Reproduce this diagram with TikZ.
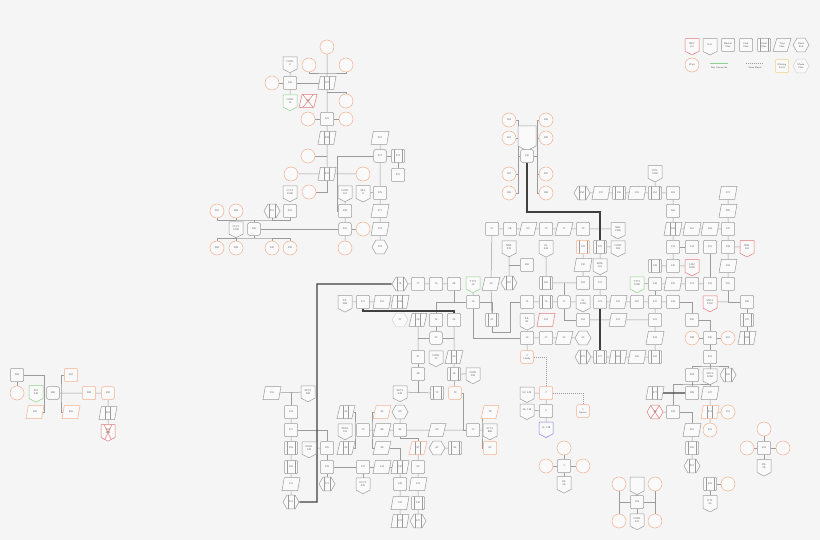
\documentclass[tikz,border=0pt]{standalone}
\usetikzlibrary{shapes.geometric,shapes.symbols,calc}
\pgfdeclarelayer{bg}
\pgfsetlayers{bg,main}
\definecolor{bgc}{RGB}{245,245,245}
\definecolor{lnc}{RGB}{155,155,155}
\definecolor{txc}{RGB}{95,95,95}
\definecolor{orc}{RGB}{244,176,142}
\definecolor{rdc}{RGB}{228,120,120}
\definecolor{grc}{RGB}{140,210,140}
\definecolor{blc}{RGB}{125,125,230}
\definecolor{ylc}{RGB}{240,210,130}
\tikzset{
  nbox/.style={draw=lnc, fill=white!55!bgc, line width=0.5pt, inner sep=0pt, text=txc,
    font=\sffamily\fontsize{2.6}{3}\selectfont, align=center},
  sq/.style={nbox, rectangle, rounded corners=0.8pt, minimum width=13pt, minimum height=13pt},
  rsq/.style={sq, rounded corners=2.5pt},
  par/.style={nbox, trapezium, trapezium left angle=68, trapezium right angle=112,
    trapezium stretches=true, minimum width=18pt, minimum height=13pt},
  hexa/.style={nbox, regular polygon, regular polygon sides=6, minimum size=16pt},
  tag/.style={nbox, signal, signal to=south, signal pointer angle=125, minimum width=14pt, minimum height=14pt},
  circ/.style={nbox, draw=orc, circle, minimum size=14pt},
  innerl/.style={path picture={
    \draw[lnc, line width=0.5pt] ([xshift=-#1]path picture bounding box.center) ++(0,-10) -- ++(0,20);
    \draw[lnc, line width=0.5pt] ([xshift=#1]path picture bounding box.center) ++(0,-10) -- ++(0,20);}},
  dbl/.style={sq, innerl=4.2pt},
  dpar/.style={par, innerl=2.5pt},
  dhex/.style={hexa, innerl=3pt},
  xcross/.style={path picture={
    \draw[rdc, line width=0.5pt] ([shift={(2,2)}]path picture bounding box.south west) -- ([shift={(-2,-2)}]path picture bounding box.north east)
      ([shift={(2,-2)}]path picture bounding box.north west) -- ([shift={(-2,2)}]path picture bounding box.south east);}},
  ora/.style={draw=orc},
  rline/.style={draw=rdc},
  gline/.style={draw=grc},
  bline/.style={draw=blc},
  yline/.style={draw=ylc},
  lhex/.style={draw=lnc!45},
  lbl/.style={text=txc, font=\sffamily\fontsize{2.4}{3}\selectfont, inner sep=0pt},
  lk/.style={draw=lnc, line width=0.5pt},
  thk/.style={draw=black!75, line width=1.3pt},
  dotl/.style={dash pattern=on 1pt off 1pt}
}

\begin{document}
\begin{tikzpicture}[x=1pt, y=-1pt, line width=0.5pt]
%%%%% START %%%%%
\begin{pgfonlayer}{bg}
\fill[bgc] (0,0) rectangle (820,540);
\end{pgfonlayer}

\node[sq] (n389) at (17,375) {389};
\node[circ] (c389) at (17,393) {};
\node[tag,gline] (t261) at (36,392) {261\\538};
\node[rsq] (n386) at (53,393) {386};
\node[par,ora] (n400) at (35,412) {400};
\node[sq,ora] (n402) at (71,375) {402};
\node[par,ora] (n405) at (71,412) {405};
\node[sq,ora] (n388) at (89,393) {388};
\node[rsq,ora] (n390) at (108,393) {390};
\node[dpar] (n391) at (108,413) {391};
\node[tag,rline,xcross] (t392) at (108,431) {392\\628};
\coordinate (k1) at (44,412);
\coordinate (k2) at (61,393);

\node[circ] (c1) at (327,47) {};
\node[circ] (c2) at (309,65) {};
\node[circ] (c3) at (346,65) {};
\node[tag] (t8) at (290,63) {CORL\\8};
\node[sq] (n126) at (290,83) {126};
\node[circ] (c4) at (272,83) {};
\node[dpar] (n127) at (327,83) {127};
\node[tag,gline] (t14) at (290,101) {CORL\\14};
\node[par,rline,xcross] (n30a) at (308,101) {30};
\node[circ] (c5) at (346,101) {};
\node[sq] (n128) at (327,119) {219};
\node[circ] (c6) at (308,119) {};
\node[circ] (c7) at (346,119) {};
\node[dpar] (n129) at (327,138) {228};
\node[circ] (c8) at (308,156) {};
\node[dpar] (n170a) at (327,174) {270};
\node[circ] (c9) at (291,174) {};
\node[circ] (c10) at (363,174) {};
\node[circ] (c11) at (309,192) {};
\node[tag] (t1508) at (290,192) {CCCL\\1508};
\coordinate (b1) at (327,73);
\coordinate (b2) at (327,92);
\coordinate (b3) at (327,156);

\node[tag] (t112) at (345,192) {CORL\\112};
\node[tag] (t8b) at (363,192) {SEL\\8};
\node[sq] (n408) at (345,211) {408};
\node[rsq] (n301) at (345,229) {301};
\node[circ] (c12) at (363,229) {};
\node[circ] (c13) at (345,248) {};
\node[rsq] (n285) at (254,229) {285};
\node[tag] (t5208) at (236,228) {CCCL\\5208};
\node[circ] (c287) at (217,211) {287};
\node[circ] (c289) at (236,211) {289};
\node[dhex] (n251) at (272,211) {251};
\node[sq] (n252) at (290,211) {252};
\node[circ] (c286) at (217,248) {286};
\node[circ] (c288) at (236,248) {288};
\node[circ] (c290) at (272,248) {290};
\node[circ] (c292) at (290,248) {292};
\coordinate (b4) at (337,211);
\coordinate (b5) at (254,220);
\coordinate (b6) at (254,238);

\node[par] (n274) at (380,138) {274};
\node[rsq] (n272) at (380,156) {272};
\node[dbl] (n273) at (398,156) {273};
\node[sq] (n275) at (398,175) {275};
\node[sq] (n276) at (380,193) {276};
\node[par] (n277b) at (380,211) {277};
\node[par] (n278) at (380,229) {278};
\node[hexa] (n279) at (380,247) {279};

\node[dhex] (n78) at (400,284) {78};
\node[sq] (n77) at (418,284) {77};
\node[sq] (n76) at (436,284) {76};
\node[sq] (n68) at (454,284) {68};
\node[tag,gline] (t16) at (473,283) {TTTL\\16};
\node[par] (n20) at (491,284) {20};
\node[sq] (n16) at (473,302) {16};
\node[tag] (t388) at (345,302) {27L\\388};
\node[sq] (n111) at (363,302) {111};
\node[par] (n112) at (382,302) {112};
\node[dpar] (n118) at (400,302) {118};
\node[hexa,lhex] (n27) at (400,320) {27};
\node[dpar] (n26) at (418,320) {26};
\node[sq] (n19) at (436,320) {19};
\node[sq] (n24) at (454,320) {24};
\node[rsq] (n22) at (436,338) {22};
\node[sq] (n21) at (418,357) {21};
\node[tag] (t12) at (436,357) {CORL\\12};
\node[dpar] (n25) at (454,357) {25};
\node[sq] (n38) at (418,374) {38};
\node[dbl] (n18) at (454,374) {18};
\node[tag] (t308) at (473,374) {CORL\\308};
\node[tag] (t438) at (400,392) {SKTL\\438};
\node[dbl] (n73) at (437,393) {73};
\node[rsq,ora] (n79) at (455,393) {79};
\coordinate (k5) at (454,311);
\coordinate (k6) at (317,284);
\coordinate (k7) at (317,502);
\coordinate (k8) at (463,430);

\node[par] (n115) at (272,393) {115};
\node[tag] (t598) at (308,392) {SKTL\\598};
\node[sq] (n119) at (291,412) {119};
\node[sq] (n117) at (291,430) {117};
\node[dbl] (n118b) at (291,448) {118};
\node[dbl] (n150) at (291,467) {150};
\node[par] (n116) at (291,484) {111};
\node[dhex] (n113) at (291,502) {113};
\node[tag] (t128) at (309,448) {KSHL\\128};
\node[sq] (n125) at (327,448) {125};
\node[sq] (n129b) at (327,467) {129};
\node[dhex] (n171b) at (327,484) {171};
\node[sq] (n131) at (363,467) {131};
\node[tag] (t425) at (363,484) {KCTL\\425};
\node[par] (n133) at (382,467) {133};
\node[dpar] (n134) at (400,467) {134};

\node[dpar] (n94) at (346,412) {94};
\node[tag] (t123) at (345,430) {SKKL\\123};
\node[dpar] (n96) at (346,448) {96};
\node[sq] (n70b) at (363,430) {70};
\node[par,ora] (n95) at (382,412) {95};
\node[par] (n88) at (382,430) {88};
\node[par] (n98) at (382,448) {98};
\node[hexa] (n89) at (400,412) {89};
\node[sq] (n86) at (400,430) {86};
\node[par] (n80) at (437,430) {80};
\node[sq] (n72) at (473,430) {72};
\node[dpar,ora] (n87) at (418,448) {87};
\node[hexa] (n83) at (437,448) {83};
\node[dbl] (n84) at (455,448) {84};
\node[sq] (n90) at (418,467) {90};
\node[par] (n121) at (418,484) {121};
\node[dbl] (n130) at (418,503) {130};
\node[dhex] (n127b) at (418,521) {127};
\node[sq] (n128b) at (400,484) {128};
\node[par] (n120) at (400,503) {120};
\node[dpar] (n122b) at (400,521) {121};
\node[par,ora] (n78b) at (490,412) {78};
\node[tag] (t888) at (490,430) {STTL\\888};
\node[sq,ora] (n82) at (490,448) {82};
\coordinate (k9) at (355,430);
\coordinate (k10) at (372,430);
\coordinate (k11) at (418,438);
\coordinate (k12) at (482,430);

\node[circ] (c181) at (509,120) {183};
\node[circ] (c182) at (509,138) {181};
\node[circ] (c183) at (509,174) {187};
\node[circ] (c184) at (509,193) {189};
\node[circ] (c185) at (546,120) {185};
\node[circ] (c186) at (546,138) {186};
\node[circ] (c187) at (546,174) {187};
\node[circ] (c188) at (546,193) {188};
\node[tag, minimum width=18pt, minimum height=20pt] (t190) at (527,136) {};
\node[rsq] (n190) at (527,156) {190};
\coordinate (k13a) at (518,120);
\coordinate (k13b) at (518,193);
\coordinate (k14a) at (537,120);
\coordinate (k14b) at (537,193);
\coordinate (k15) at (527,212);
\coordinate (k16) at (600,212);

\node[dhex] (n158) at (582,193) {158};
\node[par] (n157) at (601,193) {157};
\node[dbl] (n156) at (619,193) {156};
\node[par] (n151) at (637,193) {151};
\node[dbl] (n154) at (655,193) {154};
\node[sq] (n163) at (673,193) {163};
\node[tag] (t2458) at (655,172) {PPL\\2458};

\node[sq] (n57) at (492,229) {57};
\node[sq] (n58) at (510,229) {58};
\node[par] (n60) at (528,229) {60};
\node[sq] (n70) at (546,229) {70};
\node[par] (n71) at (564,229) {71};
\node[sq] (n72c) at (583,229) {72};
\node[tag] (t2328) at (618,229) {NBL\\2328};
\node[tag] (t242) at (509,247) {NML\\242};
\node[tag] (t448) at (546,247) {OL\\448};
\node[dbl,ora] (n122) at (583,247) {122};
\node[dbl] (n170) at (600,247) {170};
\node[tag] (t268) at (618,247) {CORL\\268};
\node[sq] (n106) at (527,265) {106};
\node[par] (n130c) at (583,265) {130};
\node[tag] (t161) at (600,265) {SKSL\\161};
\node[dhex] (n107) at (509,283) {107};
\node[dbl] (n105) at (546,283) {105};
\node[sq] (n102) at (583,283) {102};
\node[sq] (n174) at (600,283) {174};
\node[tag,gline] (t1098) at (637,283) {TTTL\\1098};
\node[sq] (n74) at (527,302) {74};
\node[dbl] (n75) at (546,302) {76};
\node[rsq] (n71c) at (564,302) {71};
\node[tag] (t1069) at (583,302) {SL\\1069};
\node[sq] (n173) at (600,302) {173};
\node[par] (n175) at (618,302) {175};
\node[sq] (n187) at (637,302) {187};
\node[sq] (n147) at (655,302) {147};
\node[sq] (n149) at (673,302) {149};
\node[dbl] (n21d) at (492,320) {21};
\node[tag] (t81) at (527,320) {KIL\\81};
\node[par,rline] (n103) at (546,320) {103};
\node[sq] (n104) at (583,320) {104};
\node[par] (n122c) at (618,320) {122};
\node[sq] (n141) at (655,320) {141};
\node[sq] (n290) at (692,320) {290};
\node[sq] (n12) at (527,338) {12};
\node[sq] (n17) at (546,338) {17};
\node[par] (n42) at (564,338) {42};
\node[hexa] (n43) at (583,338) {43};
\node[par] (n143) at (655,338) {143};
\node[rsq,ora] (n2) at (527,357) {2\\Lobby};
\node[dhex] (n172) at (583,357) {172};
\node[dbl] (n171) at (600,357) {171};
\node[dpar] (n166) at (618,357) {166};
\node[par] (n165) at (637,357) {165};
\node[dbl] (n144) at (655,357) {144};
\coordinate (k17) at (492,332);
\coordinate (k18) at (510,332);

\node[tag] (t429) at (527,393) {52, 429};
\node[sq,ora] (n7) at (546,393) {7};
\node[tag] (t138a) at (527,410) {46, 138};
\node[sq] (n6) at (546,411) {6};
\node[tag,bline] (t138b) at (546,428) {13, 138};
\node[rsq,ora] (n1) at (583,411) {1\\Spawn};

\node[par] (n271) at (728,193) {271};
\node[sq] (n164) at (673,211) {164};
\node[par] (n285b) at (728,211) {285};
\node[dpar] (n159) at (673,229) {159};
\node[par] (n161) at (692,229) {161};
\node[par] (n169) at (710,229) {169};
\node[sq] (n170r) at (728,229) {170};
\node[sq] (n133r) at (673,247) {133};
\node[sq] (n134r) at (692,247) {134};
\node[sq] (n151r) at (710,247) {151};
\node[sq] (n199) at (728,247) {199};
\node[tag,rline] (t160) at (747,247) {NNL\\160};
\node[dbl] (n138) at (655,266) {138};
\node[sq] (n136) at (673,266) {136};
\node[tag,rline] (t2658) at (692,266) {1362\\2658};
\node[par] (n193) at (728,266) {193};
\node[sq] (n148) at (655,284) {148};
\node[par] (n150r) at (673,284) {150};
\node[sq] (n174r) at (692,284) {174};
\node[sq] (n152) at (710,284) {152};
\node[sq] (n201) at (728,284) {201};
\node[tag,rline] (t1002) at (710,302) {SNCL\\1002};
\node[sq] (n196) at (747,302) {196};
\node[dbl] (n197) at (747,320) {197};
\node[dpar] (n198) at (747,338) {198};

\node[circ] (c298) at (692,338) {298};
\node[sq] (n295) at (710,338) {295};
\node[circ] (c301) at (728,338) {301};
\node[sq] (n302) at (710,357) {302};
\node[sq] (n299) at (692,375) {299};
\node[tag] (t5068) at (710,375) {SKCL\\5068};
\node[dhex] (n304) at (728,375) {304};
\node[dpar] (n277) at (655,393) {277};
\node[sq] (n298) at (692,393) {298};
\node[par] (n307) at (710,393) {307};
\node[hexa,rline,xcross] (n30) at (655,412) {30};
\node[sq] (n109) at (673,412) {109};
\node[dpar,ora] (n212) at (710,412) {212};
\node[circ] (c214) at (728,412) {214};
\node[par] (n310) at (692,430) {310};
\node[circ] (c215) at (710,430) {215};
\node[dbl] (n316) at (692,448) {316};
\node[dhex] (n317) at (692,466) {317};
\node[dbl] (n319) at (710,484) {319};
\node[circ] (c319) at (728,484) {};
\node[tag] (t56a) at (710,502) {KTL\\56};
\coordinate (k20) at (710,366);
\coordinate (k21) at (692,384);

\node[sq] (n3) at (564,466) {3};
\node[circ] (c3a) at (564,448) {};
\node[circ] (c3b) at (546,466) {};
\node[circ] (c3c) at (583,466) {};
\node[tag] (t56b) at (564,483) {10L\\56};

\node[sq] (n303) at (764,448) {303};
\node[circ] (c303a) at (764,429) {};
\node[circ] (c303b) at (747,448) {};
\node[circ] (c303c) at (783,448) {};
\node[tag] (t56c) at (764,466) {20L\\56};

\node[sq] (n118c) at (637,502) {118};
\node[tag] (t484) at (637,484) {};
\node[tag] (t121) at (637,520) {CORL\\121};
\node[circ] (c4a) at (619,484) {};
\node[circ] (c4b) at (655,484) {};
\node[circ] (c4c) at (619,521) {};
\node[circ] (c4d) at (655,521) {};
\coordinate (k22) at (619,502);
\coordinate (k23) at (655,502);

\node[tag,rline] (lg1) at (692,45) {NPC\\Cut};
\node[tag] (lg2) at (710,45) {Exit};
\node[sq] (lg3) at (728,45) {Rocket\\Dies};
\node[sq] (lg4) at (746,45) {Hub\\Dies};
\node[dbl] (lg5) at (764,45) {Client\\Dies};
\node[par] (lg6) at (782,45) {Trap\\Dies};
\node[hexa] (lg7) at (801,45) {Dead\\End};
\node[circ] (lg8) at (692,65) {Wait};
\coordinate (lg9a) at (710,63);
\coordinate (lg9b) at (728,63);
\node[lbl] (lg9) at (719,68) {Non Connected};
\coordinate (lg10a) at (746,63);
\coordinate (lg10b) at (764,63);
\node[lbl] (lg10) at (755,68) {Same Board};
\node[sq,yline] (lg11) at (782,66) {Missing\\Exits};
\node[hexa,lhex] (lg12) at (801,66) {Mode\\Dies};

\begin{pgfonlayer}{bg}
\begin{scope}[lk]
\draw[lk] (n389) -- (c389);
\draw[lk] (n389) -| (k1) -- (n400);
\draw[lk] (n402) -| (k2) |- (n405);
\draw[lk] (n386) -- (n388) -- (n390) -- (n391) -- (t392);

\draw[lk] (c1) -- (n127) -- (n128) -- (n129) -- (n170a);
\draw[lk] (c2) |- (b1) -| (c3);
\draw[lk] (t8) -- (n126) -- (t14);
\draw[lk] (c4) -- (n126) -- (n127);
\draw[lk] (b2) -| (c5);
\draw[lk] (c6) -- (n128) -- (c7);
\draw[lk] (c8) -- (b3);
\draw[lk] (c9) -- (n170a) -- (c10);
\draw[lk] (n170a) |- (c11);

\draw[lk] (n272) -| (b4) -- (n408);
\draw[lk] (t112) -- (n408) -- (n301) -- (c13);
\draw[lk] (n301) -- (c12);
\draw[lk] (n301) -- (n285);
\draw[lk] (n285) -- (b5);
\draw[lk] (c287) |- (b5) -| (n252);
\draw[lk] (c289) -- (c289 |- b5);
\draw[lk] (n251) -- (n251 |- b5);
\draw[lk] (n285) -- (b6);
\draw[lk] (c286) |- (b6) -| (c292);
\draw[lk] (c288) -- (c288 |- b6);
\draw[lk] (c290) -- (c290 |- b6);

\draw[lk] (n274) -- (n272) -- (n276) -- (n277b) -- (n278) -- (n279);
\draw[lk] (n272) -- (n273) -- (n275);
\draw[lk] (t8b) -- (n276);

\draw[lk] (n78) -- (n77) -- (n76) -- (n68);
\draw[lk] (t16) -- (n16);
\draw[lk] (n68) |- (n16);
\draw[lk] (n19) |- (n16);
\draw[lk] (n16) -| (n21d);
\draw[lk] (n20) -- (n21d);
\draw[lk] (n16) |- (n12);
\draw[lk] (t388) -- (n111) -- (n112) -- (n118);
\draw[lk] (n26) -- (n21);
\draw[lk] (n19) -- (n22);
\draw[lk] (n26 |- n22) -- (n22) -- (n24 |- n22);
\draw[lk] (n24) -- (n25) -- (n18) -- (n79);
\draw[lk] (n18) -- (t308);
\draw[lk] (n21) -- (n38);
\draw[lk] (n38) -- (n38 |- n73);
\draw[lk] (t438) -- (n73);
\draw[lk] (n79) -| (k8) -- (n72);

\draw[lk] (n115) -- (t598);
\draw[lk] (n119) -- (n119 |- t598);
\draw[lk] (n119) -- (n117) -- (n118b) -- (n150) -- (n116) -- (n113);
\draw[lk] (n117) -| (n125);
\draw[lk] (t128) -- (n125);
\draw[lk] (n125) -- (n129b) -- (n171b);
\draw[lk] (n129b) -- (n131) -- (n133) -- (n134);
\draw[lk] (n131) -- (t425);

\draw[lk] (n94) -| (k9) |- (n96);
\draw[lk] (n70b) -- (n88);
\draw[lk] (n95) -| (k10) |- (n98);
\draw[lk] (n88) -- (n86) -- (n80) -- (n72);
\draw[lk] (n89) -- (n86);
\draw[lk] (n86) |- (k11) -- (n87);
\draw[lk] (n87) -- (n90) -- (n121) -- (n130) -- (n127b);
\draw[lk] (n98) -| (n134);
\draw[lk] (n134) -- (n128b) -- (n120) -- (n122b);
\draw[lk] (n83) -- (n84);
\draw[lk] (n78b) -| (k12) |- (n82);
\draw[lk] (n72) -- (t888);

\draw[lk] (c181) -- (k13a) -- (k13b) -- (c184);
\draw[lk] (c182) -- (c182 -| k13a);
\draw[lk] (c183) -- (c183 -| k13a);
\draw[lk] (c185) -- (k14a) -- (k14b) -- (c188);
\draw[lk] (c186) -- (c186 -| k14a);
\draw[lk] (c187) -- (c187 -| k14a);
\draw[lk] (n190 -| k13a) -- (n190) -- (n190 -| k14a);
\draw[lk] (t190) -- (n190);

\draw[lk] (n158) -- (n157) -- (n156) -- (n151) -- (n154) -- (n163);
\draw[lk] (t2458) -- (n154);
\draw[lk] (n57) -- (n58) -- (n60) -- (n70) -- (n71) -- (n72c) -- (t2328);
\draw[lk] (n57) -- (n20);
\draw[lk] (t242) -- (n107);
\draw[lk] (n106) -- (n106 -| t242);
\draw[lk] (t448) -- (n105) -- (n102);
\draw[lk] (n122) -- (n130c) -- (n102);
\draw[lk] (n170) -- (t161) -- (n174) -- (n173);
\draw[lk] (n170) -- (t268);
\draw[lk] (n71c) -- (n71c |- n105);
\draw[lk] (n71c) |- (n104);
\draw[lk] (n74) -- (n75) -- (n71c) -- (t1069);
\draw[lk] (n173) -- (n175) -- (n187) -- (n147) -- (n149);
\draw[lk] (n149) -| (n290);
\draw[lk] (n104) -- (n122c) -- (n141);
\draw[lk] (n12) -- (n17) -- (n42) -- (n43);
\draw[lk] (t81) -- (n12) -- (n2);
\draw[lk] (n172) -- (n171) -- (n166) -- (n165) -- (n144);
\draw[lk] (n147) -- (n141) -- (n143) -- (n144);
\draw[lk] (n21d) -- (k17) -- (k18) |- (n74);

\draw[lk,dotl] (n2) -| (n7);
\draw[lk,dotl] (n7) -| (n1);
\draw[lk] (t429) -- (n7) -- (n6) -- (t138b);
\draw[lk] (t138a) -- (n6);

\draw[lk] (n163) -- (n164) -- (n159) -- (n133r) -- (n136);
\draw[lk] (n138) -- (n136) -- (t2658);
\draw[lk] (n159) -- (n161) -- (n169) -- (n170r);
\draw[lk] (n133r) -- (n134r);
\draw[lk] (n271) -- (n285b) -- (n170r) -- (n199) -- (n193) -- (n201);
\draw[lk] (n199) -- (t160);
\draw[lk] (n151r) -- (n152);
\draw[lk] (t1098) -- (n148) -- (n150r) -- (n174r) -- (n152);
\draw[lk] (n148) -- (n147);
\draw[lk] (n201) |- (n196);
\draw[lk] (t1002) -- (t1002 -| n201);
\draw[lk] (n196) -- (n197) -- (n198);

\draw[lk] (n290) -| (n295);
\draw[lk] (c298) -- (n295) -- (c301);
\draw[lk] (n295) -- (n302) -- (t5068);
\draw[lk] (n299) |- (k20) -| (n304);
\draw[lk] (n299) -- (n298);
\draw[lk] (n109) |- (k21) -| (n307);
\draw[lk] (n30) -- (n109);
\draw[lk] (n109) -| (n310);
\draw[lk] (n307) -- (n212) -- (c214);
\draw[lk] (n212) -- (c215);
\draw[lk] (n310) -- (n316) -- (n317);
\draw[lk] (n319) -- (c319);
\draw[lk] (n319) -- (t56a);

\draw[lk] (c3a) -- (n3) -- (t56b);
\draw[lk] (c3b) -- (n3) -- (c3c);
\draw[lk] (c303a) -- (n303) -- (t56c);
\draw[lk] (c303b) -- (n303) -- (c303c);
\draw[lk] (t484) -- (n118c) -- (t121);
\draw[lk] (c4a) -- (c4c);
\draw[lk] (c4b) -- (c4d);
\draw[lk] (k22) -- (n118c) -- (k23);

\draw[lk, draw=grc] (lg9a) -- (lg9b);
\draw[lk, dotl] (lg10a) -- (lg10b);

\draw[thk] (n78) -- (k6) -- (k7) -- (n113);
\draw[thk] (n111) |- (k5) -- (n24);
\draw[thk] (n190) -- (k15) -- (k16) -- (n170);
\draw[thk] (n173) -- (n171);
\draw[thk] (n277) -- (n298);
\end{scope}
\end{pgfonlayer}
%%%%% END %%%%%
\end{tikzpicture}
\end{document}
